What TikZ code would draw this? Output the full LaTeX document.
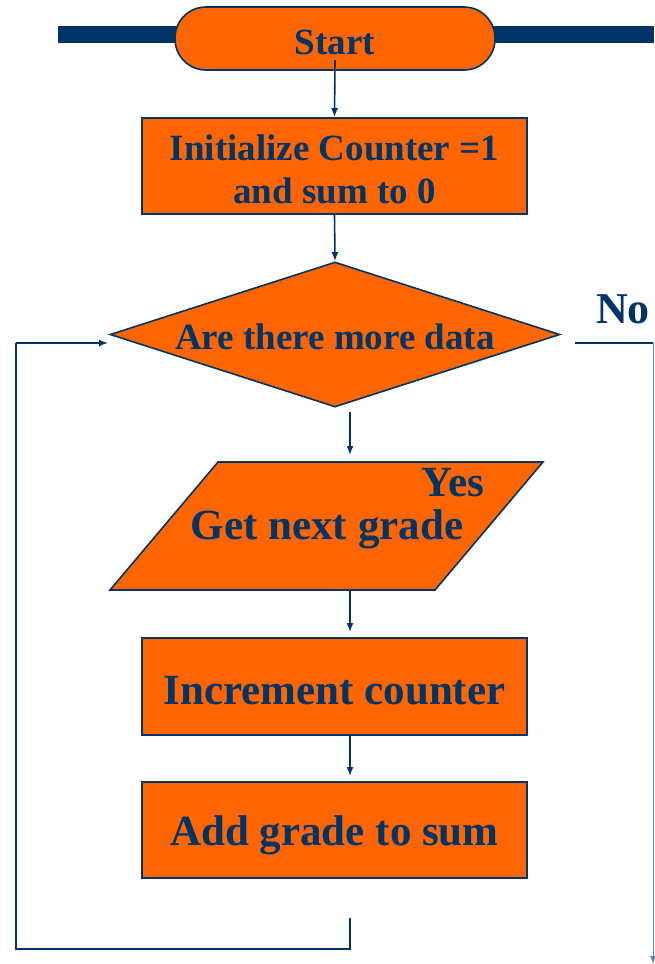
\documentclass[tikz,border=0pt]{standalone}
\usepackage{fontspec}
\setmainfont{Liberation Serif}
\usetikzlibrary{shapes.geometric,arrows.meta}
\definecolor{navy}{HTML}{003366}
\definecolor{orng}{HTML}{FF6600}
\tikzset{
  box/.style={draw=navy, line width=1.6pt, fill=orng, inner sep=0pt},
  lbl/.style={text=navy, font=\bfseries\fontsize{37}{43}\selectfont, align=center, inner sep=0pt},
  big/.style={text=navy, font=\bfseries\fontsize{43}{48}\selectfont, inner sep=0pt},
  conn/.style={draw=navy, line width=1.6pt},
  arr/.style={conn, -{Latex[length=9pt,width=7pt]}}
}
\begin{document}
\begin{tikzpicture}[x=1pt,y=-1pt]
\useasboundingbox (0,0) rectangle (654,964);
% top band
\fill[navy] (58,26) rectangle (654,43);
% Start
\node[box, rounded corners=31pt, minimum width=320pt, minimum height=63pt] (start) at (335,38.5) {};
\node[lbl] (starttxt) at (335,42) {Start};
% Init
\node[box, minimum width=385pt, minimum height=96pt] (init) at (334.5,166) {};
\node[lbl] (inittxt) at (334.5,169) {Initialize Counter =1\\and sum to 0};
% Decision
\node[box, diamond, aspect=3.1, minimum width=450pt, minimum height=145pt] (dec) at (335,334.5) {};
\node[lbl] (dectxt) at (335,337) {Are there more data};
% Parallelogram
\draw[box] (218,462) -- (543,462) -- (435,590) -- (110,590) -- cycle;
\coordinate (gtop) at (350,462);
\coordinate (gbot) at (350,590);
\node[big] (gtxt) at (327,529) {Get next grade};
\node[big] (yes) at (453,483) {Yes};
% Increment
\node[box, minimum width=385pt, minimum height=97pt] (inc) at (334.5,686.5) {};
\node[big] (inctxt) at (334.5,691) {Increment counter};
% Add
\node[box, minimum width=385pt, minimum height=96pt] (add) at (334.5,830) {};
\node[big] (addtxt) at (334.5,835) {Add grade to sum};
% No label
\node[text=navy, font=\bfseries\fontsize{44}{48}\selectfont, inner sep=0pt] (no) at (623,309) {No};
% connectors
\coordinate (sfrom) at (335,60);
\draw[arr] (sfrom) -- (init.north);
\draw[arr] (init.south) -- (dec.north);
\coordinate (dbot) at (350,412);
\coordinate (gin) at (350,455);
\draw[arr] (dbot) -- (gin);
\coordinate (iin) at (350,632);
\draw[arr] (gbot) -- (iin);
\coordinate (ibot) at (350,736);
\coordinate (ain) at (350,776);
\draw[arr] (ibot) -- (ain);
% loop back
\coordinate (l1) at (350,918);
\coordinate (l2) at (350,949);
\coordinate (l3) at (16,949);
\coordinate (l4) at (16,343);
\coordinate (l5) at (108,343);
\draw[conn] (l1) -- (l2) -- (l3) -- (l4);
\draw[arr] (l4) -- (l5);
% No branch
\coordinate (n1) at (575,343);
\coordinate (n2) at (653,343);
\coordinate (n3) at (653,964);
\draw[conn] (n1) -- (n2);
\draw[draw=navy!60, line width=1pt, -{Latex[length=8pt,width=6pt]}] (n2) -- (n3);
\end{tikzpicture}
\end{document}
